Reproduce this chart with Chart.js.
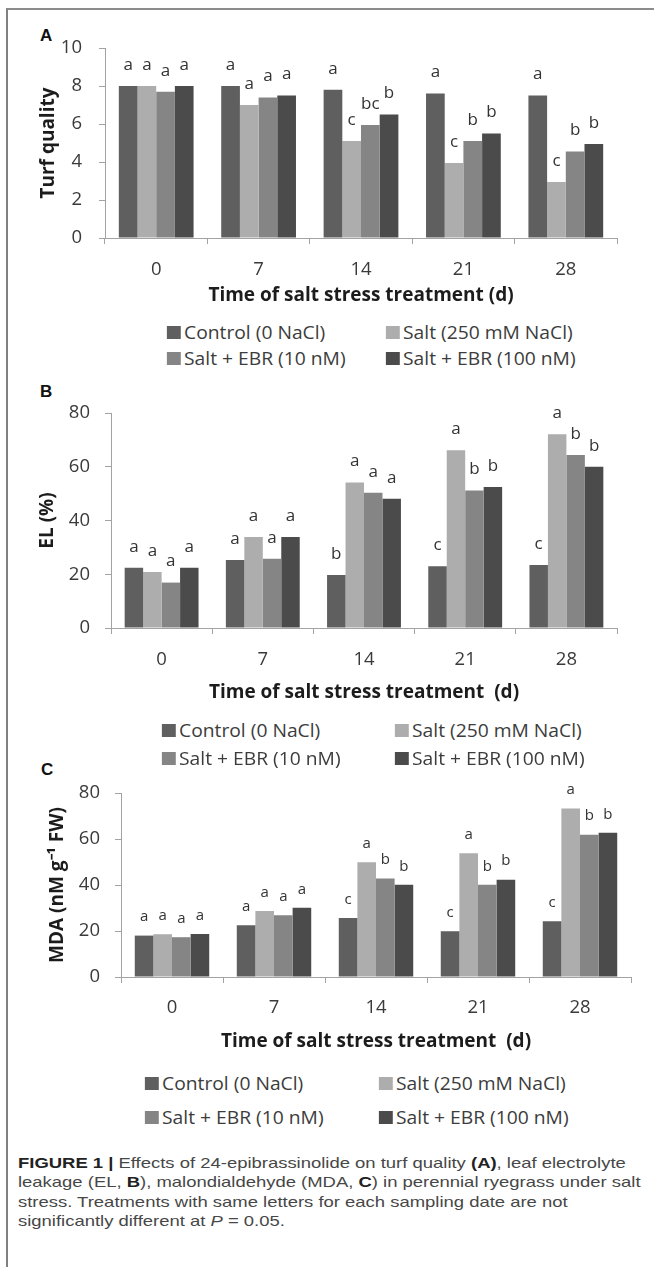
<!DOCTYPE html>
<html>
<head>
<meta charset="utf-8">
<script src="https://cdn.jsdelivr.net/npm/chart.js@4.4.1/dist/chart.umd.min.js"></script>
<style>
  html, body { margin: 0; padding: 0; background: #fff; }
  body { width: 654px; height: 1267px; position: relative; overflow: hidden; font-family: "Open Sans", sans-serif; }
  .frame { position: absolute; left: 6px; top: 8px; width: 660px; height: 1270px; border-left: 2px solid #808080; border-top: 2px solid #8c8c8c; }
  canvas { position: absolute; left: 0; }
  .tag { position: absolute; font: bold 17px "Liberation Sans", Arial, sans-serif; color: #111; line-height: 20px; }
  .leg { position: absolute; font-size: 18px; color: #3c3c3c; white-space: nowrap; line-height: 20px; transform: scaleX(1.07); transform-origin: 0 50%; }
  .leg i { position: absolute; width: 13px; height: 13px; left: -16px; top: 4px; }
  .caption { position: absolute; left: 18px; top: 1153px; font: 15px "Liberation Sans", Arial, sans-serif; color: #474747; line-height: 19.3px; white-space: nowrap; transform: scaleX(1.23); transform-origin: 0 0; }
  .caption b { color: #222; }
</style>
</head>
<body>
<div class="frame"></div>
<div class="tag" style="left:40px; top:26px;">A</div>
<div class="tag" style="left:40px; top:382px;">B</div>
<div class="tag" style="left:41px; top:760px;">C</div>
<canvas id="chartA" width="654" height="310" style="top:0px; width:654px; height:310px;"></canvas>
<canvas id="chartB" width="654" height="330" style="top:380px; width:654px; height:330px;"></canvas>
<canvas id="chartC" width="654" height="300" style="top:760px; width:654px; height:300px;"></canvas>
<div id="legends"></div>
<div class="caption">
<b>FIGURE 1 |</b> Effects of 24-epibrassinolide on turf quality <b>(A)</b>, leaf electrolyte<br>
leakage (EL, <b>B</b>), malondialdehyde (MDA, <b>C</b>) in perennial ryegrass under salt<br>
stress. Treatments with same letters for each sampling date are not<br>
significantly different at <i>P</i> = 0.05.
</div>
<script>
// sampling days and treatments
const days = ['0', '7', '14', '21', '28'];
const seriesNames = ['Control (0 NaCl)', 'Salt (250 mM NaCl)', 'Salt + EBR (10 nM)', 'Salt + EBR (100 nM)'];
const seriesColors = ['#5f5f5f', '#adadad', '#858585', '#4b4b4b'];

// A - turf quality
const turfControl = [8.0, 8.0, 7.8, 7.6, 7.5];
const turfSalt = [8.0, 7.0, 5.1, 3.95, 2.95];
const turfEbr10 = [7.7, 7.4, 5.95, 5.1, 4.55];
const turfEbr100 = [8.0, 7.5, 6.5, 5.5, 4.95];
const turfLetters = [
  ['a', 'a', 'a', 'a', 'a'],
  ['a', 'a', 'c', 'c', 'c'],
  ['a', 'a', 'bc', 'b', 'b'],
  ['a', 'a', 'b', 'b', 'b']
];

// B - electrolyte leakage (%)
const elControl = [22.4, 25.3, 19.7, 23.0, 23.4];
const elSalt = [20.8, 33.9, 54.1, 66.1, 72.1];
const elEbr10 = [16.9, 25.8, 50.3, 51.2, 64.4];
const elEbr100 = [22.4, 33.9, 48.1, 52.5, 60.0];
const elLetters = [
  ['a', 'a', 'b', 'c', 'c'],
  ['a', 'a', 'a', 'a', 'a'],
  ['a', 'a', 'a', 'b', 'b'],
  ['a', 'a', 'a', 'b', 'b']
];

// C - MDA
const mdaControl = [18.0, 22.5, 25.7, 19.9, 24.2];
const mdaSalt = [18.6, 28.7, 49.9, 53.8, 73.3];
const mdaEbr10 = [17.3, 26.8, 42.8, 40.1, 61.9];
const mdaEbr100 = [18.7, 30.1, 40.1, 42.3, 62.7];
const mdaLetters = [
  ['a', 'a', 'c', 'c', 'c'],
  ['a', 'a', 'a', 'a', 'a'],
  ['a', 'a', 'b', 'b', 'b'],
  ['a', 'a', 'b', 'b', 'b']
];

const axisColor = '#a3a3a3';
const tickColor = '#3a3a3a';
const titleColor = '#1c1c1c';
const W = 654;

// draws the significance letters above each bar
const letterPlugin = {
  id: 'letters',
  afterDatasetsDraw(chart, args, opts) {
    const ctx = chart.ctx;
    ctx.save();
    ctx.font = opts.size + 'px "Open Sans"';
    ctx.fillStyle = '#333333';
    ctx.textAlign = 'center';
    ctx.textBaseline = 'middle';
    chart.data.datasets.forEach((ds, i) => {
      const meta = chart.getDatasetMeta(i);
      meta.data.forEach((bar, j) => {
        ctx.fillText(ds.letters[j], bar.x, bar.y - opts.offset);
      });
    });
    ctx.restore();
  }
};

function makeChart(id, cfg) {
  const H = cfg.height;
  const tickSize = 18.5;
  const tickFont = { family: 'Open Sans', size: tickSize, lineHeight: 1.2 };
  const titleFont = { family: 'Open Sans', size: 19, weight: 'bold', lineHeight: 1.2 };
  const tlh = tickSize * 1.2;
  const lh = 19 * 1.2;

  new Chart(document.getElementById(id), {
    type: 'bar',
    data: {
      labels: days,
      datasets: seriesNames.map((name, i) => ({
        label: name,
        data: cfg.values[i],
        backgroundColor: seriesColors[i],
        letters: cfg.letters[i]
      }))
    },
    options: {
      responsive: false,
      animation: false,
      layout: { padding: { top: cfg.plotTop, right: W - cfg.right, left: 0, bottom: 0 } },
      datasets: { bar: { categoryPercentage: 0.73, barPercentage: 1 } },
      plugins: {
        legend: { display: false },
        tooltip: { enabled: false },
        letters: { size: cfg.letterSize, offset: cfg.letterOffset }
      },
      scales: {
        x: {
          grid: { drawOnChartArea: false, drawTicks: true, tickLength: 6, color: axisColor, offset: true },
          border: { color: axisColor },
          ticks: { font: tickFont, color: tickColor, padding: cfg.xLabelY - cfg.plotBottom - 6 - tlh / 2 },
          title: {
            display: true, text: cfg.xTitle, font: titleFont, color: titleColor,
            padding: { top: 0, bottom: H - cfg.xTitleY - lh / 2 }
          },
          afterFit: s => { s.height = H - cfg.plotBottom; }
        },
        y: {
          min: 0,
          max: cfg.yMax,
          grid: { drawOnChartArea: false, drawTicks: true, tickLength: 6, color: axisColor },
          border: { color: axisColor },
          ticks: { stepSize: cfg.yStep, font: tickFont, color: tickColor, padding: cfg.left - 6 - cfg.yLabelRight },
          title: {
            display: true, text: cfg.yTitle, font: titleFont, color: titleColor,
            padding: { top: cfg.yTitleX - lh / 2, bottom: 0 }
          },
          afterFit: s => { s.width = cfg.left; }
        }
      }
    },
    plugins: [letterPlugin]
  });
}

makeChart('chartA', {
  height: 310, plotTop: 48, plotBottom: 238, left: 105, right: 617,
  yMax: 10, yStep: 2, yLabelRight: 82, yTitleX: 49, xLabelY: 270, xTitleY: 296,
  yTitle: 'Turf quality', xTitle: 'Time of salt stress treatment (d)',
  values: [turfControl, turfSalt, turfEbr10, turfEbr100], letters: turfLetters,
  letterSize: 17, letterOffset: 21
});

makeChart('chartB', {
  height: 330, plotTop: 33, plotBottom: 248, left: 111, right: 617,
  yMax: 80, yStep: 20, yLabelRight: 90, yTitleX: 47.5, xLabelY: 280, xTitleY: 313,
  yTitle: 'EL (%)', xTitle: 'Time of salt stress treatment  (d)',
  values: [elControl, elSalt, elEbr10, elEbr100], letters: elLetters,
  letterSize: 17, letterOffset: 21
});

makeChart('chartC', {
  height: 300, plotTop: 33, plotBottom: 217, left: 121, right: 631,
  yMax: 80, yStep: 20, yLabelRight: 100, yTitleX: 58, xLabelY: 248, xTitleY: 282,
  yTitle: 'MDA (nM g\u207B\u00B9 FW)', xTitle: 'Time of salt stress treatment  (d)',
  values: [mdaControl, mdaSalt, mdaEbr10, mdaEbr100], letters: mdaLetters,
  letterSize: 15, letterOffset: 18.5
});

// html legends, two rows of two items under each panel
const legendSpots = [
  { rows: [332, 358], cols: [184, 403] },
  { rows: [730, 758], cols: [179, 412] },
  { rows: [1083, 1117], cols: [162, 396] }
];
const holder = document.getElementById('legends');
legendSpots.forEach(spot => {
  seriesNames.forEach((name, i) => {
    const el = document.createElement('div');
    el.className = 'leg';
    el.style.left = spot.cols[i % 2] + 'px';
    el.style.top = (spot.rows[Math.floor(i / 2)] - 10) + 'px';
    el.innerHTML = '<i style="background:' + seriesColors[i] + '"></i>' + name;
    holder.appendChild(el);
  });
});
</script>
</body>
</html>
